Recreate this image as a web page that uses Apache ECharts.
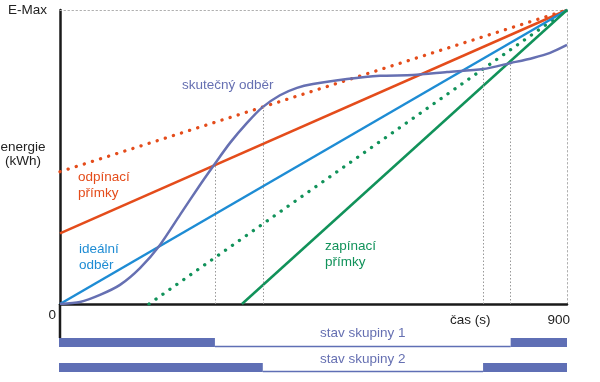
<!DOCTYPE html>
<html><head><meta charset="utf-8">
<script src="https://cdn.jsdelivr.net/npm/echarts@6/dist/echarts.min.js"></script>
<style>html,body{margin:0;padding:0;background:#fff}#c{width:600px;height:382px}</style>
</head><body><div id="c"></div>
<script>
// ---- data ----
const timeMax = 900;
const energyMax = 100;
const curveTime   = [0, 35.5, 71, 106.5, 142, 177.5, 213, 248.5, 273.4, 301.8, 332, 358.6, 390.5, 420.7, 449, 509.5, 568, 626.6, 687, 751, 800.6, 839.6, 870, 900];
const curveEnergy = [0, 0.7, 3.1, 6.5, 12.2, 20.1, 30.3, 40.5, 47.3, 54.8, 61.6, 66.8, 71.0, 73.5, 74.8, 76.5, 77.6, 77.9, 78.9, 79.9, 82.0, 83.7, 85.4, 88.1];
const idealLine     = [[0, 0], [900, 100]];
const offLineSolid  = [[0, 24], [900, 100]];
const offLineDotted = [[0, 45], [900, 100]];
const onLineDotted  = [[158, 0], [900, 100]];
const onLineSolid   = [[323, 0], [900, 100]];
const switchTimes  = [275, 360, 751, 800];
const switchEnergy = [47.5, 67, 79.9, 82.2];
const groupNames = ['stav skupiny 1', 'stav skupiny 2'];
const group1Segments = [[0, 275, 1], [275, 800, 0], [800, 900, 1]];
const group2Segments = [[0, 360, 1], [360, 751, 0], [751, 900, 1]];

// ---- colours ----
const C_ORANGE = '#e44c1b', C_BLUE = '#1e8cd4', C_GREEN = '#11925a', C_PURPLE = '#6670b2', C_BAR = '#5f6fb5';
const FONT = 'Liberation Sans, Arial, sans-serif';

const chart = echarts.init(document.getElementById('c'));
const curveData = curveTime.map((t, i) => [t, curveEnergy[i]]);
const stateData = [];
group1Segments.forEach(s => stateData.push([0, s[0], s[1], s[2]]));
group2Segments.forEach(s => stateData.push([1, s[0], s[1], s[2]]));

function lineSeries(data, color, dotted, z) {
  return {
    type: 'line', xAxisIndex: 0, yAxisIndex: 0, data: data, showSymbol: false, symbol: 'none', z: z || 2,
    lineStyle: dotted ? {color: color, width: 3.3, type: [0.1, 8.4], cap: 'round'} : {color: color, width: 2.5},
    silent: true
  };
}

function txt(text, x, y, color, align) {
  return {type: 'text', silent: true, style: {text: text, x: x, y: y, fill: color, font: '13.5px ' + FONT,
    textAlign: align || 'left', textVerticalAlign: 'middle'}};
}

chart.setOption({
  animation: false,
  grid: [
    {left: 60, right: 33, top: 10, bottom: 78},
    {left: 60, right: 33, top: 330, height: 50}
  ],
  xAxis: [
    {gridIndex: 0, type: 'value', min: 0, max: timeMax, position: 'bottom',
     axisLine: {show: true, onZero: false, lineStyle: {color: '#1a1a1a', width: 2.5}},
     axisTick: {show: false}, axisLabel: {show: false}, splitLine: {show: false}},
    {gridIndex: 0, type: 'value', min: 0, max: timeMax, position: 'top',
     axisLine: {show: true, onZero: false, lineStyle: {color: '#b0b0b0', width: 1, type: [1.5, 2.5]}},
     axisTick: {show: false}, axisLabel: {show: false}, splitLine: {show: false}},
    {gridIndex: 1, type: 'value', min: 0, max: timeMax, show: false}
  ],
  yAxis: [
    {gridIndex: 0, type: 'value', min: 0, max: energyMax, interval: 100, position: 'left',
     axisLine: {show: true, onZero: false, lineStyle: {color: '#1a1a1a', width: 2.5}},
     axisTick: {show: false}, splitLine: {show: false},
     axisLabel: {show: true, margin: 13, color: '#222', fontSize: 13.5, fontFamily: FONT,
       formatter: v => v === energyMax ? 'E-Max' : ''}},
    {gridIndex: 0, type: 'value', min: 0, max: energyMax, position: 'right',
     axisLine: {show: true, onZero: false, lineStyle: {color: '#b0b0b0', width: 1, type: [1.5, 2.5]}},
     axisTick: {show: false}, axisLabel: {show: false}, splitLine: {show: false}},
    {gridIndex: 1, type: 'category', data: groupNames, inverse: true, show: false}
  ],
  series: [
    lineSeries(offLineDotted, C_ORANGE, true),
    lineSeries(onLineDotted, C_GREEN, true),
    lineSeries(offLineSolid, C_ORANGE, false),
    lineSeries(idealLine, C_BLUE, false),
    lineSeries(onLineSolid, C_GREEN, false),
    {
      type: 'line', xAxisIndex: 0, yAxisIndex: 0, data: curveData, smooth: 0.25,
      showSymbol: false, symbol: 'none',
      lineStyle: {color: C_PURPLE, width: 2.5}, z: 3, silent: true,
      markLine: {
        symbol: 'none', silent: true, label: {show: false},
        lineStyle: {color: '#999', width: 1, type: [1.5, 2]},
        data: switchTimes.map((t, i) => [{coord: [t, 0]}, {coord: [t, switchEnergy[i]]}])
      }
    },
    {
      type: 'custom', xAxisIndex: 2, yAxisIndex: 2, data: stateData, silent: true,
      renderItem: function (params, api) {
        const row = api.value(0), s = api.value(1), e = api.value(2), on = api.value(3);
        const p1 = api.coord([s, row]), p2 = api.coord([e, row]);
        const x0 = s === 0 ? p1[0] - 1 : p1[0];
        if (on) {
          return {type: 'rect', shape: {x: x0, y: p1[1] - 4.5, width: p2[0] - x0, height: 9}, style: {fill: C_BAR}};
        }
        return {type: 'rect', shape: {x: p1[0], y: p1[1] + 3.2, width: p2[0] - p1[0], height: 1.5}, style: {fill: C_BAR}};
      }
    }
  ],
  graphic: [
    {type: 'line', silent: true, shape: {x1: 60, y1: 304, x2: 60, y2: 338}, style: {stroke: '#1a1a1a', lineWidth: 2.5}},
    txt('0', 56, 315, '#222', 'right'),
    txt('energie', 23, 147, '#222', 'center'),
    txt('(kWh)', 23, 161, '#222', 'center'),
    txt('čas (s)', 450, 320, '#222'),
    txt('900', 570, 320, '#222', 'right'),
    txt('skutečný odběr', 182, 85, C_PURPLE),
    txt('odpínací', 78, 177, C_ORANGE),
    txt('přímky', 78, 193, C_ORANGE),
    txt('ideální', 79, 249, C_BLUE),
    txt('odběr', 79, 265, C_BLUE),
    txt('zapínací', 325, 246, C_GREEN),
    txt('přímky', 325, 262, C_GREEN),
    txt(groupNames[0], 320, 333, C_PURPLE),
    txt(groupNames[1], 320, 359, C_PURPLE)
  ]
});
</script>
</body></html>
